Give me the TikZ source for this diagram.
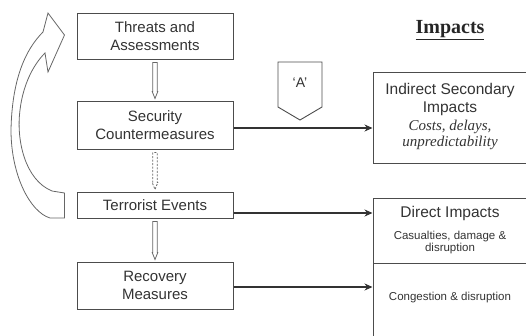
\documentclass[tikz,border=0pt]{standalone}
\usepackage{fontspec}
\setmainfont{Liberation Serif}
\setsansfont{Liberation Sans}
\usetikzlibrary{calc,arrows.meta}

\tikzset{
  leftbox/.style={draw=black!70, line width=1pt, minimum width=156pt, inner sep=0pt, align=center, text=black!80, font=\sffamily\fontsize{15}{18.5}\selectfont},
  impbox/.style={draw=black!70, line width=1pt, minimum width=155pt, inner sep=0pt},
  boxtext/.style={inner sep=0pt, align=center, text=black!80},
  sidearrow/.style={draw=black!80, line width=1.6pt, -{Stealth[length=8pt,width=7pt]}},
  hollow/.style={draw=black!60, line width=0.8pt},
}

\newcommand{\hollowdown}[3][]{%
  \draw [hollow,#1] ($(#2)+(-2.2,3)$) -- ($(#3)+(-2.2,-9)$) -- ($(#3)+(-2.8,-9)$) -- ($(#3)+(0,-2)$)
    -- ($(#3)+(2.8,-9)$) -- ($(#3)+(2.2,-9)$) -- ($(#2)+(2.2,3)$) -- cycle;}

\begin{document}
\begin{tikzpicture}[x=1pt,y=-1pt]
            \useasboundingbox (0,0) rectangle (526,335);
            \clip (0,0) rectangle (526,335);

            \node [leftbox, minimum height=46pt] (threats) at (155,36) {Threats and\\Assessments};
            \node [leftbox, minimum height=48pt] (security) at (155,125) {Security\\Countermeasures};
            \node [leftbox, minimum height=26pt] (terror) at (155,205) {Terrorist Events};
            \node [leftbox, minimum height=47pt] (recovery) at (155,285.5) {Recovery\\Measures};

            \hollowdown{threats.south}{security.north}
            \hollowdown[dash pattern=on 2pt off 1.5pt]{security.south}{terror.north}
            \hollowdown{terror.south}{recovery.north}

            \coordinate (loopfrom) at ($(terror.west)+(-12,0)$);
            \coordinate (loopto) at ($(threats.west)+(-12,-1)$);
            \draw [hollow] ($(loopfrom)+(0,-12)$) -- (52,191) .. controls (25,180) and (16,140) .. (20,110)
                .. controls (23,85) and (33,65) .. (45,53) -- (48,72) -- (loopto) -- (48,13) -- (43,32)
                .. controls (25,50) and (12,80) .. (11,130) .. controls (11,175) and (30,212) .. (50,218)
                -- ($(loopfrom)+(0,13)$) -- cycle;

            \node [font=\bfseries\fontsize{20}{24}\selectfont, text=black!85] (title) at (450,30) {\underline{Impacts}};

            \node [impbox, minimum height=91pt] (indirect) at (450.5,117.5) {};
            \node [boxtext, font=\sffamily\fontsize{15.5}{18}\selectfont] (indhead) at (450,99) {Indirect Secondary\\Impacts};
            \node [boxtext, font=\itshape\fontsize{15}{16}\selectfont] (indsub) at (450,135) {Costs, delays,\\unpredictability};

            \node [impbox, minimum height=65pt] (direct) at (450.5,230.5) {};
            \node [impbox, minimum height=77pt] (congest) at (450.5,301.5) {};
            \node [boxtext, font=\sffamily\fontsize{15.5}{18}\selectfont] (dirhead) at (450,213) {Direct Impacts};
            \node [boxtext, font=\sffamily\fontsize{11.5}{12}\selectfont] (dirsub) at (450,243) {Casualties, damage \&\\disruption};
            \node [boxtext, font=\sffamily\fontsize{11.5}{12}\selectfont] (consub) at (450,298) {Congestion \& disruption};

            \draw [draw=black!70, line width=0.9pt] (278,62) -- (322,62) -- (322,107) -- (300,120) -- (278,107) -- cycle;
            \node [boxtext, font=\sffamily\fontsize{14}{16}\selectfont] (amark) at (300,83) {`A'};

            \coordinate (secout) at ([yshift=-3pt]security.east);
            \coordinate (terout) at ([yshift=-8pt]terror.east);
            \coordinate (recout) at ([yshift=-1.5pt]recovery.east);
            \draw [sidearrow] (secout) -- (secout -| indirect.west);
            \draw [sidearrow] (terout) -- (terout -| direct.west);
            \draw [sidearrow] (recout) -- (recout -| congest.west);
        \end{tikzpicture}
\end{document}
